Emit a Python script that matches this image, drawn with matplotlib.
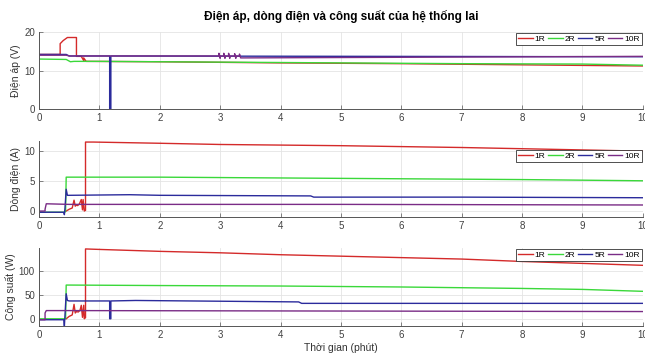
import matplotlib
matplotlib.use("Agg")
from matplotlib import pyplot as plt

plt.rcParams['font.family'] = ['Liberation Sans', 'DejaVu Sans']

labels = ['1R', '2R', '5R', '10R']
colors = ['#d42a2a', '#3ad83a', '#2b2b9c', '#7a2c86']

#--- voltage (V) ---#
v1_t = [0, 0.35, 0.35, 0.40, 0.47, 0.62, 0.62, 0.70, 0.74, 0.74, 0.78, 2, 4, 6, 8, 10]
v1 = [14.2, 14.2, 17.0, 17.8, 18.6, 18.6, 13.7, 13.7, 12.6, 13.3, 12.4, 12.3, 12.0, 11.8, 11.5, 11.2]
v2_t = [0, 0.45, 0.52, 0.58, 1, 3, 5, 7, 9, 10]
v2 = [13.0, 12.9, 12.3, 12.4, 12.4, 12.2, 12.0, 11.8, 11.7, 11.4]
v5_t = [0, 0.45, 0.5, 1.17, 1.17, 1.19, 1.19, 10]
v5 = [14.2, 14.2, 13.8, 13.8, 0, 0, 13.8, 13.6]
v10_t = [0, 0.45, 0.5, 2.98, 2.98, 3.0, 3.0, 3.06, 3.06, 3.08, 3.08, 3.14, 3.14, 3.16, 3.16,
         3.24, 3.24, 3.26, 3.26, 3.32, 3.32, 3.34, 10]
v10 = [14.0, 14.0, 13.8, 13.8, 14.5, 13.2, 13.8, 13.8, 14.5, 13.2, 13.8, 13.8, 14.5, 13.2, 13.8,
       13.8, 14.4, 13.2, 13.8, 13.8, 14.3, 13.3, 13.7]

#--- current (A) ---#
i1_t = [0.45, 0.5, 0.55, 0.58, 0.6, 0.62, 0.64, 0.67, 0.70, 0.72, 0.73, 0.75, 0.76, 0.77, 0.77,
        0.9, 2, 3, 5, 7, 9, 10]
i1 = [0.0, 0.3, 0.5, 1.8, 0.8, 1.0, 0.9, 1.2, 1.9, 0.2, 1.9, 0.0, 0.1, 0.1, 11.4,
      11.4, 11.2, 11.0, 10.8, 10.5, 10.1, 9.9]
i2_t = [0, 0.43, 0.44, 0.45, 0.5, 2, 5, 8, 10]
i2 = [-0.2, -0.2, 0.0, 5.6, 5.6, 5.6, 5.4, 5.2, 5.0]
i5_t = [0, 0.41, 0.42, 0.43, 0.45, 0.47, 0.5, 1.5, 2, 4.5, 4.55, 7, 10]
i5 = [-0.2, -0.2, -0.6, 0.5, 3.6, 2.6, 2.6, 2.7, 2.6, 2.5, 2.3, 2.3, 2.2]
i10_t = [0, 0.1, 0.1, 0.12, 0.5, 5, 10]
i10 = [0.0, 0.0, 0.3, 1.2, 1.1, 1.1, 1.0]

#--- power (W) ---#
p1_t = [0.45, 0.5, 0.55, 0.58, 0.6, 0.62, 0.65, 0.68, 0.70, 0.72, 0.74, 0.75, 0.76, 0.77, 0.77,
        1, 2, 3, 4, 5, 6, 7, 8, 9, 10]
p1 = [0, 5, 8, 30, 12, 15, 14, 18, 28, 3, 28, 0, 2, 2, 145,
      144, 140, 137, 133, 130, 127, 124, 119, 115, 111]
p2_t = [0, 0.44, 0.45, 0.5, 2, 4, 6, 8, 9, 10]
p2 = [0, 0, 70, 70, 69, 68, 66, 63, 61, 57]
p5_t = [0, 0.41, 0.42, 0.44, 0.45, 0.47, 0.5, 1.17, 1.17, 1.19, 1.19, 1.6, 4.3, 4.35, 10]
p5 = [-2, -2, -15, 30, 52, 38, 37, 37, 0, 0, 37, 38, 35, 32, 32]
p10_t = [0, 0.1, 0.1, 0.12, 0.5, 10]
p10 = [-2, -2, 12, 17, 17, 15]

panels = [
    ([(v1_t, v1), (v2_t, v2), (v5_t, v5), (v10_t, v10)], 'Điện áp (V)', (0, 20), [0, 10, 20]),
    ([(i1_t, i1), (i2_t, i2), (i5_t, i5), (i10_t, i10)], 'Dòng điện (A)', (-1, 11.6), [0, 5, 10]),
    ([(p1_t, p1), (p2_t, p2), (p5_t, p5), (p10_t, p10)], 'Công suất (W)', (-15, 147), [0, 50, 100]),
]
positions = [[0.0605, 0.691, 0.936, 0.218],
             [0.0605, 0.385, 0.936, 0.216],
             [0.0605, 0.0765, 0.936, 0.221]]
legend_anchor = [(1.0, 1.0), (1.0, 0.89), (1.0, 1.0)]

fig = plt.figure(figsize=(6.45, 3.53), dpi=100)
for k, (series, ylab, ylim, yticks) in enumerate(panels):
    ax = fig.add_axes(positions[k])
    for (t, y), c, lab in zip(series, colors, labels):
        ax.plot(t, y, color=c, lw=1.0, label=lab)
    ax.set_xlim(0, 10)
    ax.set_ylim(*ylim)
    ax.set_yticks(yticks)
    ax.set_xticks(range(11))
    ax.set_ylabel(ylab, fontsize=7.5, color='#333333', labelpad=2)
    ax.grid(True, color='#e4e4e4', lw=0.6)
    ax.set_axisbelow(True)
    for s in ['top', 'right']:
        ax.spines[s].set_visible(False)
    for s in ['left', 'bottom']:
        ax.spines[s].set_color('#555555')
        ax.spines[s].set_linewidth(0.7)
    ax.tick_params(direction='in', length=3, width=0.5, colors='#555555', labelsize=7,
                   labelcolor='#404040', pad=3)
    leg = ax.legend(loc='upper right', bbox_to_anchor=legend_anchor[k], ncol=4, fontsize=6,
                    handlelength=1.7, handletextpad=0.25, columnspacing=0.35, borderpad=0.25,
                    fancybox=False, framealpha=1, borderaxespad=0.1)
    leg.get_frame().set_edgecolor('#333333')
    leg.get_frame().set_linewidth(0.6)
    if k == 0:
        ax.set_title('Điện áp, dòng điện và công suất của hệ thống lai', fontsize=8.5,
                     fontweight='bold', pad=9)
    if k == 2:
        ax.set_xlabel('Thời gian (phút)', fontsize=7.5, color='#333333', labelpad=2)

fig.savefig('out.png', dpi=100, facecolor='white')
